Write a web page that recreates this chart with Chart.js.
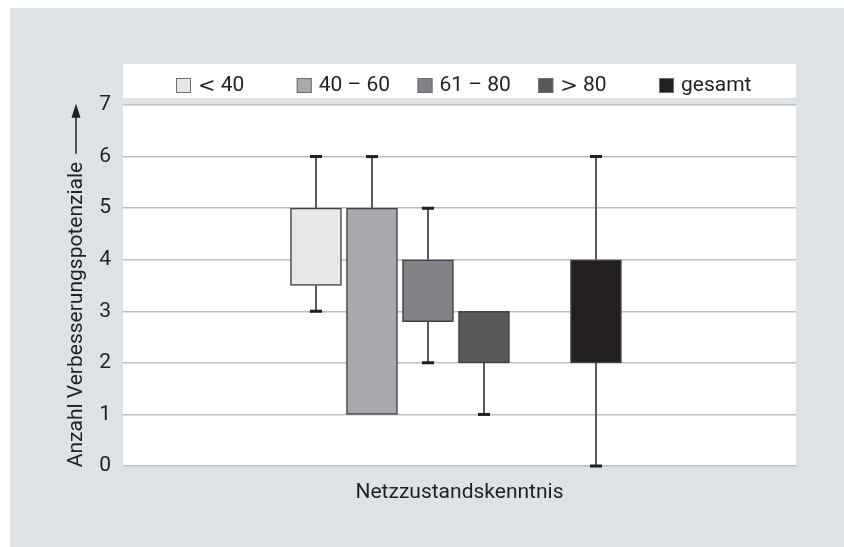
<!DOCTYPE html>
<html>
<head>
<meta charset="utf-8">
<script src="https://cdn.jsdelivr.net/npm/chart.js@4.4.1/dist/chart.umd.min.js"></script>
<style>
    html, body { margin: 0; padding: 0; background: #fff; }
</style>
</head>
<body>
<canvas id="chart" width="844" height="547"></canvas>
<script>
// data
const groups = ['< 40', '40 – 60', '61 – 80', '> 80', 'gesamt']; // legend labels
const slots = [3, 4, 5, 6, 8];             // x position of each box
const boxLow = [3.5, 1, 2.8, 2, 2];        // lower quartile
const boxHigh = [5, 5, 4, 3, 4];           // upper quartile
const whiskerMin = [3, 1, 2, 1, 0];
const whiskerMax = [6, 6, 5, 3, 6];
const yTicks = [0, 1, 2, 3, 4, 5, 6, 7];
const fills = ['#e6e7e8', '#a7a9ac', '#808285', '#58595b', '#231f20'];

const FONT = 'Roboto', TEXT = '#231f20';

// gray panel, white legend band and white plot area
const panels = {
    id: 'panels',
    beforeDraw(chart) {
        const { ctx, chartArea: a, width, height } = chart;
        ctx.save();
        ctx.fillStyle = '#fff';
        ctx.fillRect(0, 0, width, height);
        ctx.fillStyle = '#dde2e6';
        ctx.fillRect(10, 8, width - 10, height - 8);
        ctx.fillStyle = '#fff';
        ctx.fillRect(a.left, 64, a.right - a.left, 34); // legend band
        ctx.fillRect(a.left, a.top, a.right - a.left, a.bottom - a.top);
        ctx.restore();
    }
};

// fixed-column legend like the original
const columnLegend = {
    id: 'columnLegend',
    afterDraw(chart) {
        const { ctx, chartArea: a } = chart;
        const step = 120.75, cy = 85.5;
        ctx.save();
        ctx.textBaseline = 'middle';
        chart.data.datasets.forEach((ds, i) => {
            let x = a.left + 53 + i * step;
            ctx.fillStyle = ds.backgroundColor;
            ctx.fillRect(x, cy - 7.5, 15, 15);
            ctx.strokeStyle = '#6d6e71';
            ctx.lineWidth = 1;
            ctx.strokeRect(x + 0.5, cy - 7, 14, 14);
            x += 22;
            ctx.fillStyle = TEXT;
            let text = ds.label;
            if (text[0] === '<' || text[0] === '>') { // math-like symbol
                ctx.font = '21px "DejaVu Serif"';
                ctx.fillText(text[0], x, cy + 1);
                x += ctx.measureText(text[0]).width;
                text = text.slice(1);
            }
            ctx.font = `21px ${FONT}`;
            ctx.fillText(text, x, cy);
        });
        ctx.restore();
    }
};

// y title with arrow, centred on the plot
const yTitle = {
    id: 'yTitle',
    afterDraw(chart) {
        const { ctx, chartArea: a } = chart;
        const text = 'Anzahl Verbesserungspotenziale', gap = 8, arrow = 50;
        ctx.save();
        ctx.font = `21px ${FONT}`;
        const w = ctx.measureText(text).width;
        ctx.translate(77, (a.top + a.bottom) / 2);
        ctx.rotate(-Math.PI / 2);
        const x0 = -(w + gap + arrow) / 2;
        ctx.fillStyle = TEXT;
        ctx.textBaseline = 'middle';
        ctx.fillText(text, x0, 0);
        // arrow
        const s = x0 + w + gap, e = s + arrow;
        ctx.strokeStyle = TEXT;
        ctx.lineWidth = 1.5;
        ctx.beginPath(); ctx.moveTo(s, -1); ctx.lineTo(e - 10, -1); ctx.stroke();
        ctx.beginPath();
        ctx.moveTo(e, -1); ctx.lineTo(e - 14, -5.5); ctx.lineTo(e - 14, 3.5);
        ctx.closePath(); ctx.fill();
        ctx.restore();
    }
};

// whiskers under the boxes
const whiskers = {
    id: 'whiskers',
    beforeDatasetsDraw(chart) {
        const { ctx, scales: { x, y } } = chart;
        ctx.save();
        slots.forEach((s, i) => {
            const px = x.getPixelForValue(s);
            ctx.strokeStyle = '#58595b';
            ctx.lineWidth = 2;
            ctx.beginPath();
            ctx.moveTo(px, y.getPixelForValue(whiskerMax[i]));
            ctx.lineTo(px, y.getPixelForValue(boxHigh[i]));
            ctx.moveTo(px, y.getPixelForValue(boxLow[i]));
            ctx.lineTo(px, y.getPixelForValue(whiskerMin[i]));
            ctx.stroke();
            ctx.strokeStyle = TEXT;
            ctx.lineWidth = 3;
            ctx.beginPath();
            [[whiskerMax[i], boxHigh[i]], [whiskerMin[i], boxLow[i]]].forEach(([v, edge]) => {
                if (v === edge) return; // no whisker, no cap
                const py = y.getPixelForValue(v);
                ctx.moveTo(px - 6, py); ctx.lineTo(px + 6, py);
            });
            ctx.stroke();
        });
        ctx.restore();
    }
};

const datasets = groups.map((label, i) => ({
    label,
    data: [{ x: slots[i], y: [boxLow[i], boxHigh[i]] }],
    backgroundColor: fills[i],
    borderColor: '#414042',
    borderWidth: 1.5,
    borderSkipped: false,
    grouped: false,
    barThickness: 51,
}));

new Chart(document.getElementById('chart'), {
    type: 'bar',
    data: { datasets },
    options: {
        responsive: false,
        animation: false,
        devicePixelRatio: 1,
        layout: { padding: { top: 105, right: 48, left: 0, bottom: 0 } },
        plugins: { legend: { display: false }, tooltip: { enabled: false } },
        scales: {
            x: {
                type: 'linear', min: -0.446, max: 11.572, offset: false,
                ticks: { display: false },
                grid: { display: false, offset: false },
                border: { display: false },
                title: {
                    display: true, text: 'Netzzustandskenntnis', color: TEXT,
                    font: { family: FONT, size: 21 }, padding: { top: 0, bottom: 42 }
                },
                afterFit: s => { s.height = 81; }
            },
            y: {
                min: 0, max: 7,
                afterBuildTicks: s => { s.ticks = yTicks.map(value => ({ value })); },
                ticks: { color: TEXT, font: { family: FONT, size: 21 }, padding: 12 },
                grid: { color: '#bcbec0', lineWidth: 1.5, drawTicks: false },
                border: { display: false },
                afterFit: s => { s.width = 123; }
            }
        }
    },
    plugins: [panels, whiskers, columnLegend, yTitle]
});
</script>
</body>
</html>
